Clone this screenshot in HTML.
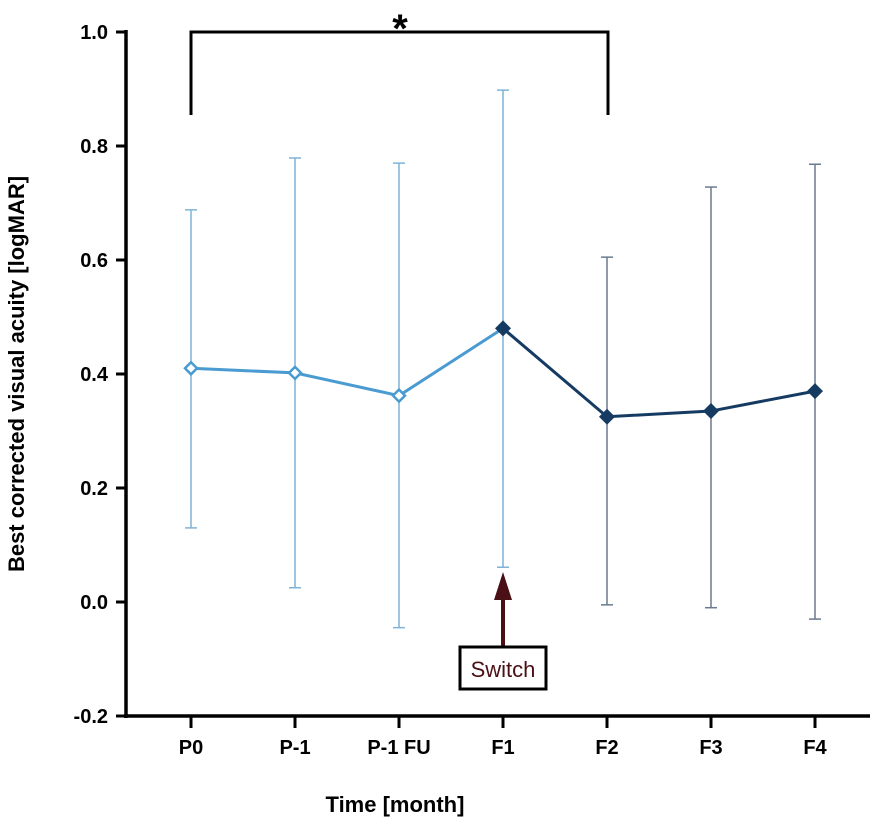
<!DOCTYPE html>
<html><head><meta charset="utf-8"><style>
body{margin:0;background:#fff}
svg{display:block;font-family:"Liberation Sans",sans-serif}
</style></head><body>
<svg id="chart" width="885" height="826" viewBox="0 0 885 826">
<g id="axes"></g>
<g id="marks"></g>
<g>
<path d="M191 115 V32 H608 V115" fill="none" stroke="#000" stroke-width="3"/>
<text x="400" y="42" font-size="40" font-weight="bold" text-anchor="middle">*</text>
</g>
<g>
<line x1="503" y1="600" x2="503" y2="647" stroke="#4a1015" stroke-width="4"/>
<polygon points="503,572 494,600 512,600" fill="#4a1015"/>
<rect x="460" y="647" width="86" height="42" fill="#fff" stroke="#000" stroke-width="3"/>
<text x="503" y="677" font-size="22" text-anchor="middle" fill="#4a1015">Switch</text>
</g>
<text x="395" y="812" font-size="22" font-weight="bold" text-anchor="middle">Time [month]</text>
<text transform="translate(24,374) rotate(-90)" font-size="22" font-weight="bold" text-anchor="middle">Best corrected visual acuity [logMAR]</text>
</svg>
<script>
const categories=["P0","P-1","P-1 FU","F1","F2","F3","F4"];
const means=[0.41,0.402,0.362,0.48,0.325,0.335,0.37];
const upper=[0.688,0.779,0.77,0.898,0.605,0.728,0.768];
const lower=[0.13,0.025,-0.045,0.061,-0.005,-0.01,-0.03];
const yTicks=[-0.2,0.0,0.2,0.4,0.6,0.8,1.0];
const yTickLabels=["-0.2","0.0","0.2","0.4","0.6","0.8","1.0"];
const phase1Count=4;
const NS="http://www.w3.org/2000/svg";
const y=v=>602-v*570;
const x=i=>191+i*104;
function mk(t,a,p){const e=document.createElementNS(NS,t);for(const k in a)e.setAttribute(k,a[k]);p.appendChild(e);return e;}
const ax=document.getElementById('axes'),mg=document.getElementById('marks');
let l=mk('line',{x1:126,y1:30,x2:126,y2:718,stroke:'#000','stroke-width':3.5},ax);


l=mk('line',{x1:124,y1:716,x2:870,y2:716,stroke:'#000','stroke-width':3.5},ax);


yTicks.forEach((v,i)=>{
 mk('line',{x1:116,y1:y(v),x2:126,y2:y(v),stroke:'#000','stroke-width':3},ax);
 const t=mk('text',{x:108,y:y(v)+7,'font-size':20,'font-weight':'bold','text-anchor':'end'},ax);
 t.textContent=yTickLabels[i];
 
 
});
categories.forEach((c,i)=>{
 mk('line',{x1:x(i),y1:716,x2:x(i),y2:728,stroke:'#000','stroke-width':3},ax);
 const t=mk('text',{x:x(i),y:754,'font-size':20,'font-weight':'bold','text-anchor':'middle'},ax);
 t.textContent=c;
 
 
});
const light='#4a9bd1',dark='#163b63';
categories.forEach((c,i)=>{
 const col=i<phase1Count?'#7fb3d8':'#6a7a8f';
 const g=mk('g',{},mg);
 
 
 mk('line',{x1:x(i),y1:y(upper[i]),x2:x(i),y2:y(lower[i]),stroke:col,'stroke-width':1.5},g);
 mk('line',{x1:x(i)-6,y1:y(upper[i]),x2:x(i)+6,y2:y(upper[i]),stroke:col,'stroke-width':1.5},g);
 mk('line',{x1:x(i)-6,y1:y(lower[i]),x2:x(i)+6,y2:y(lower[i]),stroke:col,'stroke-width':1.5},g);
});
let p1=[],p2=[];
means.forEach((v,i)=>{if(i<phase1Count)p1.push(x(i)+','+y(v));if(i>=phase1Count-1)p2.push(x(i)+','+y(v));});
l=mk('polyline',{points:p1.join(' '),fill:'none',stroke:light,'stroke-width':3},mg);


l=mk('polyline',{points:p2.join(' '),fill:'none',stroke:dark,'stroke-width':3},mg);


means.forEach((v,i)=>{
 const cx=x(i),cy=y(v),open=i<phase1Count-1,s=open?6:8;
 const pts=`${cx},${cy-s} ${cx+s},${cy} ${cx},${cy+s} ${cx-s},${cy}`;
 const m=open?mk('polygon',{points:pts,fill:'#fff',stroke:light,'stroke-width':2.5},mg):mk('polygon',{points:pts,fill:dark},mg);
 
 
});
</script>
</body></html>
